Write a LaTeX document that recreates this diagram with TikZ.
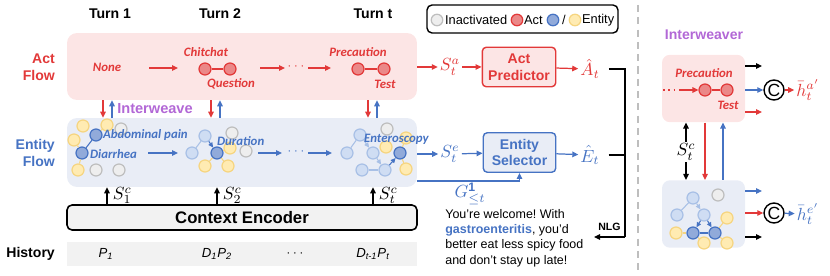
\documentclass[tikz,border=0pt]{standalone}
\usepackage{fontspec}
\setmainfont{Liberation Sans}
\newfontfamily\labfont{Carlito}
\usetikzlibrary{arrows.meta}
\frenchspacing
\definecolor{actred}{RGB}{226,57,57}
\definecolor{actpink}{RGB}{252,229,229}
\definecolor{actrose}{RGB}{235,136,136}
\definecolor{entblue}{RGB}{70,115,195}
\definecolor{entpale}{RGB}{233,237,246}
\definecolor{entdark}{RGB}{145,170,218}
\definecolor{entlite}{RGB}{207,221,243}
\definecolor{entliteline}{RGB}{168,192,230}
\definecolor{yelfill}{RGB}{255,235,178}
\definecolor{yelline}{RGB}{246,213,128}
\definecolor{inactfill}{RGB}{238,238,238}
\definecolor{inactline}{RGB}{190,190,190}
\definecolor{histgray}{RGB}{242,242,242}
\definecolor{weave}{RGB}{178,104,214}
\tikzset{
  arr/.style={-{Triangle[length=1.2mm,width=1.1mm]},line width=0.7pt},
  redarr/.style={arr,draw=actred},
  bluarr/.style={arr,draw=entblue},
  blkarr/.style={arr,draw=black},
  dotc/.style={circle,minimum size=0.24cm,inner sep=0pt,line width=0.7pt},
  actc/.style={dotc,draw=actred,fill=actrose},
  entd/.style={dotc,draw=entblue,fill=entdark},
  entl/.style={dotc,draw=entliteline,fill=entlite},
  enty/.style={dotc,draw=yelline,fill=yelfill},
  entg/.style={dotc,draw=inactline,fill=inactfill},
  dline/.style={draw=entblue,line width=0.6pt},
  lline/.style={draw=entliteline,line width=0.6pt},
  yline/.style={draw=yelline,line width=0.6pt},
  larr/.style={-{Triangle[length=1mm,width=0.9mm]},draw=entliteline,line width=0.6pt},
  darr/.style={-{Triangle[length=1mm,width=0.9mm]},draw=entblue,line width=0.6pt},
  lab/.style={font=\labfont\bfseries\itshape\fontsize{7.3}{8.5}\selectfont,inner sep=1pt},
  actlab/.style={lab,text=actred},
  entlab/.style={lab,text=entblue},
  head/.style={font=\bfseries\fontsize{8}{9.6}\selectfont},
  legtext/.style={font=\fontsize{7.3}{8.5}\selectfont,inner sep=1pt,anchor=west},
  flowbox/.style={rounded corners=0.2cm,minimum width=7cm},
  iwbox/.style={rounded corners=0.16cm,minimum width=1.66cm,minimum height=1.35cm},
  modbox/.style={draw,line width=0.8pt,rounded corners=0.08cm,minimum width=1.45cm,minimum height=0.79cm,align=center,font=\bfseries\fontsize{8}{9.6}\selectfont},
  mth/.style={font=\fontsize{10}{12}\selectfont,inner sep=1pt},
  catc/.style={circle,draw,line width=0.8pt,minimum size=0.4cm,inner sep=0pt,font=\fontsize{10}{10}\selectfont},
  flowdots/.style={font=\fontsize{7}{8}\selectfont,inner sep=0pt}
}
\begin{document}
\begin{tikzpicture}[x=0.02cm,y=-0.02cm]
\useasboundingbox (0,0) rectangle (830,276);
\node[head] (turn1) at (110,14) {Turn 1};
\node[head] (turn2) at (220,14) {Turn 2};
\node[head] (turnt) at (373,14) {Turn t};
\node[head,text=actred,align=right,anchor=east] (actname) at (61,67) {Act\\Flow};
\node[head,text=entblue,align=right,anchor=east] (entname) at (61,153) {Entity\\Flow};
\node[head,anchor=east] (histname) at (61,254) {History};
\node[flowbox,fill=actpink,minimum height=1.34cm] (actflow) at (242,66.5) {};
\node[flowbox,fill=entpale,minimum height=1.38cm] (entflow) at (242,152.5) {};
\node[draw,line width=0.9pt,fill=histgray,rounded corners=0.1cm,minimum width=7cm,minimum height=0.5cm,font=\bfseries\fontsize{9.5}{11}\selectfont] (encoder) at (242,217.5) {Context Encoder};
\node[fill=histgray,minimum width=7cm,minimum height=0.48cm] (history) at (242,254) {};
\node[font=\itshape\fontsize{7.5}{9}\selectfont] (hist1) at (106,254) {P\textsubscript{1}};
\node[font=\itshape\fontsize{7.5}{9}\selectfont] (hist2) at (217,254) {D\textsubscript{1}P\textsubscript{2}};
\node[flowdots] (hist3) at (295,254) {$\cdots$};
\node[font=\itshape\fontsize{7.5}{9}\selectfont] (hist4) at (373,254) {D\textsubscript{t-1}P\textsubscript{t}};
\node[draw,line width=0.8pt,rounded corners=0.1cm,minimum width=3.82cm,minimum height=0.56cm] (legend) at (522.5,19) {};
\node[entg,minimum size=0.23cm] (lgg) at (437,20) {};
\node[legtext] (lgi) at (443,20) {Inactivated};
\node[actc,minimum size=0.23cm] (lga) at (517,20) {};
\node[legtext] (lgact) at (522,20) {Act};
\node[entd,minimum size=0.23cm] (lgb) at (553,20) {};
\node[font=\fontsize{7.3}{8.5}\selectfont,inner sep=0pt] (lgs) at (564,20) {/};
\node[enty,minimum size=0.23cm] (lgy) at (575,20) {};
\node[legtext] (lgent) at (580,20) {Entity};
\draw[draw=inactline,line width=0.8pt,dash pattern=on 4pt off 3pt] (638,5) -- (638,270);
\node[actlab] (none) at (107,67) {None};
\node[actc] (chit) at (205,69) {};
\node[actc] (ques) at (230,69) {};
\draw[actred,line width=0.7pt] (chit) -- (ques);
\node[actlab] (chitlab) at (206,52) {Chitchat};
\node[actlab] (queslab) at (231,84) {Question};
\node[flowdots,text=actred] (adots) at (296,67) {$\cdots$};
\node[actc] (prec) at (358,69) {};
\node[actc] (test) at (384,69) {};
\draw[actred,line width=0.7pt] (prec) -- (test);
\node[actlab] (preclab) at (358,52) {Precaution};
\node[actlab] (testlab) at (385,84) {Test};
\coordinate (a1) at (149,68); \coordinate (a2) at (178,68);
\coordinate (a3) at (260,68); \coordinate (a4) at (285,68);
\coordinate (a5) at (308,68); \coordinate (a6) at (331,68);
\draw[redarr] (a1) -- (a2);
\draw[redarr] (a3) -- (a4);
\draw[redarr] (a5) -- (a6);
\node[enty] (y11) at (83,126) {};
\node[enty] (y12) at (107,125) {};
\node[enty] (y13) at (74,140) {};
\node[enty] (y14) at (78,170) {};
\node[entg] (g11) at (121,129) {};
\node[entg] (g12) at (96,170) {};
\node[entg] (g13) at (119,170) {};
\node[entd] (abd) at (96,135) {};
\node[entd] (dia) at (82,153) {};
\draw[dline] (abd) -- (dia);
\draw[yline] (abd) -- (y12);
\draw[yline] (dia) -- (y13);
\draw[yline] (dia) -- (y14);
\node[entlab,anchor=west] (abdlab) at (101,135) {Abdominal pain};
\node[entlab,anchor=west] (dialab) at (88,154) {Diarrhea};
\node[entl] (l21) at (205,136) {};
\node[entl] (l22) at (192,153) {};
\node[entg] (g21) at (232,133) {};
\node[entg] (g22) at (246,151) {};
\node[enty] (y21) at (230,148) {};
\node[enty] (y22) at (205,166) {};
\node[enty] (y23) at (228,166) {};
\node[entd] (dur) at (217,153) {};
\draw[lline] (l21) -- (l22);
\draw[darr] (l21) -- (dur);
\draw[yline] (dur) -- (y21);
\draw[yline] (dur) -- (y22);
\draw[yline] (dur) -- (y23);
\node[entlab,anchor=west] (durlab) at (215,141) {Duration};
\node[entl] (lt1) at (360,135) {};
\node[entl] (lt2) at (347,153) {};
\node[entl] (lt3) at (373,153) {};
\node[entl] (lt4) at (362,170) {};
\node[entl] (lt5) at (385,170) {};
\node[entg] (gt1) at (387,129) {};
\node[enty] (yt1) at (386,147) {};
\node[enty] (yt2) at (406,138) {};
\node[enty] (yt3) at (406,169) {};
\node[entd] (ent) at (400,153) {};
\draw[lline] (lt1) -- (lt2);
\draw[larr] (lt1) -- (lt3);
\draw[larr] (lt3) -- (lt5);
\draw[lline] (lt4) -- (lt5);
\draw[darr] (lt5) -- (ent);
\draw[yline] (ent) -- (yt2);
\draw[yline] (ent) -- (yt3);
\node[entlab,anchor=west] (entlab) at (362,139) {Enteroscopy};
\node[flowdots,text=entblue] (edots) at (296,152) {$\cdots$};
\coordinate (e1) at (148,153); \coordinate (e2) at (178,153);
\coordinate (e3) at (258,153); \coordinate (e4) at (282,153);
\coordinate (e5) at (308,153); \coordinate (e6) at (332,153);
\draw[bluarr] (e1) -- (e2);
\draw[bluarr] (e3) -- (e4);
\draw[bluarr] (e5) -- (e6);
\draw[redarr] (103,0 |- actflow.south) -- (103,0 |- entflow.north);
\draw[bluarr] (112,0 |- entflow.north) -- (112,0 |- actflow.south);
\draw[redarr] (211,0 |- actflow.south) -- (211,0 |- entflow.north);
\draw[bluarr] (220,0 |- entflow.north) -- (220,0 |- actflow.south);
\draw[redarr] (368,0 |- actflow.south) -- (368,0 |- entflow.north);
\draw[bluarr] (377,0 |- entflow.north) -- (377,0 |- actflow.south);
\node[font=\bfseries\fontsize{8.3}{10}\selectfont,text=weave] (weavelab) at (155,109) {Interweave};
\draw[blkarr] (107,0 |- encoder.north) -- (107,0 |- entflow.south) node[mth,midway,right=2pt] (sc1) {$S_1^c$};
\draw[blkarr] (217,0 |- encoder.north) -- (217,0 |- entflow.south) node[mth,midway,right=2pt] (sc2) {$S_2^c$};
\draw[blkarr] (373,0 |- encoder.north) -- (373,0 |- entflow.south) node[mth,midway,right=2pt] (sct) {$S_t^c$};
\node[mth,text=actred] (sa) at (450,67) {$S_t^a$};
\node[modbox,draw=actred,fill=actpink,text=actred] (actpred) at (519,67) {Act\\Predictor};
\node[mth,text=actred] (ahat) at (590,69) {$\hat{A}_t$};
\node[mth,text=entblue] (se) at (450,154) {$S_t^e$};
\node[modbox,draw=entblue,fill=entpale,text=entblue] (entsel) at (519.5,152.5) {Entity\\Selector};
\node[mth,text=entblue] (ehat) at (590,155) {$\hat{E}_t$};
\node[mth,text=entblue] (gle) at (470,194) {$G_{\le t}^{\mathbf{1}}$};
\draw[redarr] (actflow.east |- sa) -- (sa);
\draw[redarr] (sa) -- (actpred);
\draw[redarr] (actpred) -- (ahat);
\draw[bluarr] (entflow.east |- se) -- (se);
\draw[bluarr] (se) -- (entsel);
\draw[bluarr] (entsel) -- (ehat);
\draw[bluarr] (entflow.east |- 0,181) -| (entsel.south);
\coordinate (nlgbot) at (625,237);
\coordinate (nlgend) at (594,237);
\draw[line width=0.8pt,shorten <=4pt] (ahat.east) -| (nlgbot);
\draw[line width=0.8pt,shorten <=4pt] (ehat.east) -- (ehat.east -| nlgbot);
\draw[blkarr] (nlgbot) -- (nlgend) node[midway,above,font=\bfseries\fontsize{6}{7}\selectfont] (nlg) {NLG};
\node[anchor=north west,align=left,inner sep=0pt,font=\fontsize{7.1}{8.7}\selectfont] (reply) at (445,209) {You're welcome! With\\\textcolor{entblue}{\textbf{gastroenteritis}}, you'd\\better eat less spicy food\\and don't stay up late!};
\node[font=\bfseries\fontsize{8}{10}\selectfont,text=weave] (iwlab) at (704,35) {Interweaver};
\node[iwbox,fill=actpink] (iwact) at (703.5,88.5) {};
\node[iwbox,fill=entpale] (iwent) at (703.5,214) {};
\node[actc] (iwprec) at (705,90) {};
\node[actc] (iwtest) at (727,90) {};
\draw[actred,line width=0.7pt] (iwprec) -- (iwtest);
\node[actlab] (iwpreclab) at (704,73) {Precaution};
\node[actlab] (iwtestlab) at (728,105) {Test};
\coordinate (iwd1) at (663,90); \coordinate (iwd2) at (681,90);
\draw[actred,line width=0.9pt,dash pattern=on 1pt off 2pt] (iwd1) -- (iwd2);
\draw[redarr] (iwd2) -- (iwprec);
\node[entl] (bl1) at (693,198) {};
\node[entl] (bl2) at (677,215) {};
\node[entl] (bl3) at (704,215) {};
\node[entg] (bg1) at (718,195) {};
\node[enty] (by1) at (676,233) {};
\node[enty] (by2) at (704,243) {};
\node[enty] (by3) at (727,218) {};
\node[enty] (by4) at (727,243) {};
\node[entd] (bd1) at (693,233) {};
\node[entd] (bd2) at (715,233) {};
\draw[lline] (bl1) -- (bl2);
\draw[larr] (bl1) -- (bl3);
\draw[darr] (bl3) -- (bd1);
\draw[darr] (bl3) -- (bd2);
\draw[dline] (bd1) -- (bd2);
\draw[yline] (by1) -- (bd1);
\draw[yline] (bd1) -- (by2);
\draw[yline] (bd2) -- (by3);
\draw[yline] (bd2) -- (by4);
\node[mth] (stc) at (686,152) {$S_t^c$};
\draw[blkarr] (stc) -- (stc |- iwact.south);
\draw[blkarr] (stc) -- (stc |- iwent.north);
\draw[redarr] (705,0 |- iwact.south) -- (705,0 |- iwent.north);
\draw[bluarr] (723,0 |- iwent.north) -- (723,0 |- iwact.south);
\coordinate (o1) at (762,66); \coordinate (o3) at (762,112);
\coordinate (o4) at (762,191); \coordinate (o6) at (762,237);
\node[catc] (cata) at (774,90) {C};
\node[catc] (cate) at (774,213) {C};
\node[mth,text=actred] (hbara) at (808,90) {$\bar{h}_t^{a'}$};
\node[mth,text=entblue] (hbare) at (808,214) {$\bar{h}_t^{e'}$};
\draw[blkarr] (iwact.east |- o1) -- (o1);
\draw[bluarr] (iwact.east |- cata) -- (cata);
\draw[redarr] (iwact.east |- o3) -- (o3);
\draw[redarr] (cata) -- (hbara);
\draw[bluarr] (iwent.east |- o4) -- (o4);
\draw[redarr] (iwent.east |- cate) -- (cate);
\draw[blkarr] (iwent.east |- o6) -- (o6);
\draw[bluarr] (cate) -- (hbare);
\end{tikzpicture}
\end{document}
